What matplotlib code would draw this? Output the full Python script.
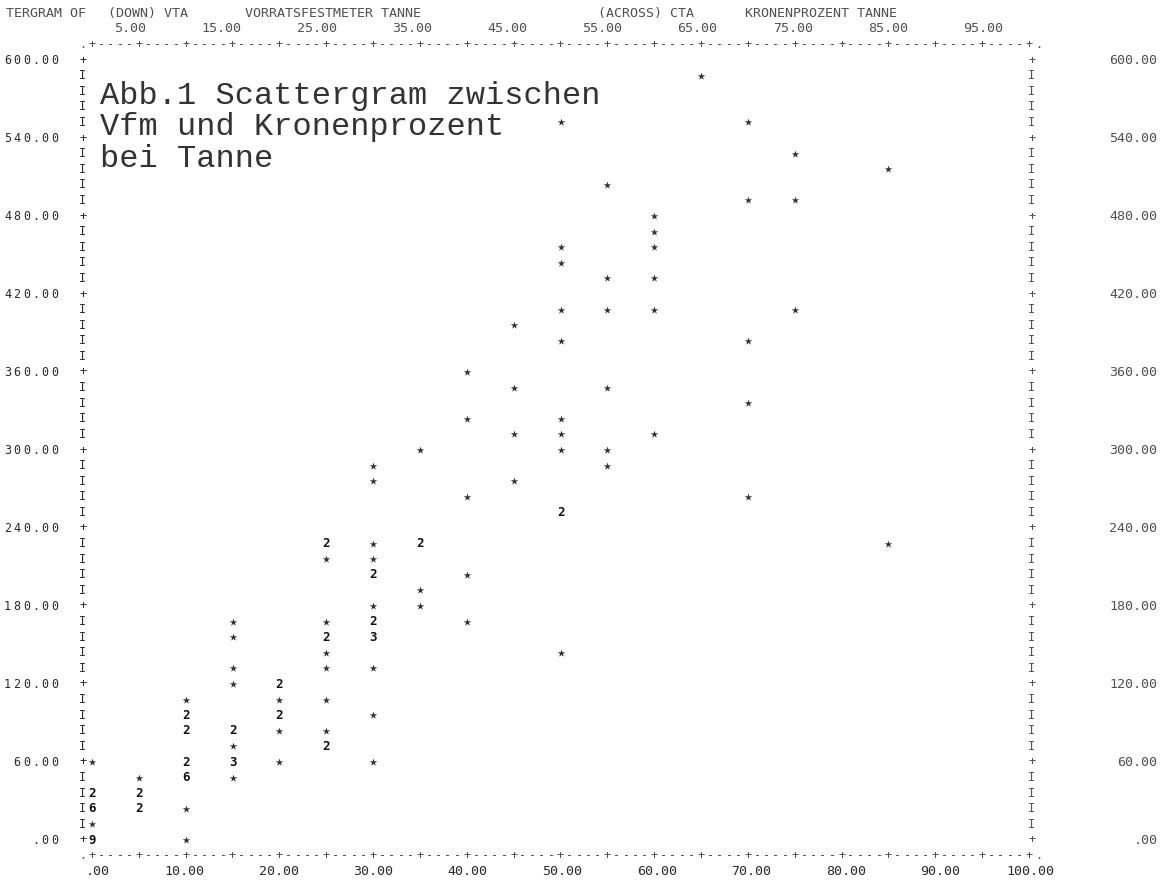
import matplotlib
matplotlib.use('Agg')
import matplotlib.pyplot as plt


# scattergram cells: across value (CTA), down value (VTA), number of cases
cta = [0, 0, 0, 0, 0,
       5, 5, 5,
       10, 10, 10, 10, 10, 10, 10,
       15, 15, 15, 15, 15, 15, 15, 15,
       20, 20, 20, 20, 20,
       25, 25, 25, 25, 25, 25, 25, 25, 25,
       30, 30, 30, 30, 30, 30, 30, 30, 30, 30, 30,
       35, 35, 35, 35,
       40, 40, 40, 40, 40,
       45, 45, 45, 45,
       50, 50, 50, 50, 50, 50, 50, 50, 50, 50,
       55, 55, 55, 55, 55, 55,
       60, 60, 60, 60, 60, 60,
       65,
       70, 70, 70, 70, 70,
       75, 75, 75,
       85, 85]
vta = [60, 36, 24, 12, 0,
       48, 36, 24,
       108, 96, 84, 60, 48, 24, 0,
       168, 156, 132, 120, 84, 72, 60, 48,
       120, 108, 96, 84, 60,
       228, 216, 168, 156, 144, 132, 108, 84, 72,
       288, 276, 228, 216, 204, 180, 168, 156, 132, 96, 60,
       300, 228, 192, 180,
       360, 324, 264, 204, 168,
       396, 348, 312, 276,
       552, 456, 444, 408, 384, 324, 312, 300, 252, 144,
       504, 432, 408, 348, 300, 288,
       480, 468, 456, 432, 408, 312,
       588,
       552, 492, 384, 336, 264,
       528, 492, 408,
       516, 228]
cases = [1, 2, 6, 1, 9,
         1, 2, 2,
         1, 2, 2, 2, 6, 1, 1,
         1, 1, 1, 1, 2, 1, 3, 1,
         2, 1, 2, 1, 1,
         2, 1, 1, 2, 1, 1, 1, 1, 2,
         1, 1, 1, 1, 2, 1, 2, 3, 1, 1, 1,
         1, 2, 1, 1,
         1, 1, 1, 1, 1,
         1, 1, 1, 1,
         1, 1, 1, 1, 1, 1, 1, 1, 2, 1,
         1, 1, 1, 1, 1, 1,
         1, 1, 1, 1, 1, 1,
         1,
         1, 1, 1, 1, 1,
         1, 1, 1,
         1, 1]

x_ticks_bottom = [0, 10, 20, 30, 40, 50, 60, 70, 80, 90, 100]
x_ticks_top = [5, 15, 25, 35, 45, 55, 65, 75, 85, 95]
y_ticks = [0, 60, 120, 180, 240, 300, 360, 420, 480, 540, 600]

header = [(-9.2, 'TERGRAM OF'), (1.7, '(DOWN) VTA'), (16.3, 'VORRATSFESTMETER TANNE'),
          (54.0, '(ACROSS) CTA'), (69.7, 'KRONENPROZENT TANNE')]
caption = ['Abb.1 Scattergram zwischen', 'Vfm und Kronenprozent', 'bei Tanne']

ROW = 12            # one printer line = 12 units of VTA
COL_PX = 9.37       # one printer column in pixels
ROW_PX = 15.6
X0_PX, Y0_PX = 92, 840

ink = '#2a2a2a'
faded = '#505050'
pfont = dict(family='DejaVu Sans Mono', fontsize=8.5, ha='center', va='center')
lfont = dict(family='DejaVu Sans Mono', fontsize=9.6, va='center')


def fmt(v):
    s = '%.2f' % v
    return s[1:] if s.startswith('0') else s


def put(ax, col, y, s, color=ink):
    # line printer: every character sits in its own column
    for i, ch in enumerate(s):
        if ch != ' ':
            ax.text(col + i, y, ch, color=color, **pfont)


fig = plt.figure(figsize=(11.69, 8.86), dpi=100)
ax = fig.add_axes([0, 0, 1, 1])
ax.set_xlim(-X0_PX / COL_PX, (1169 - X0_PX) / COL_PX)
ax.set_ylim(-(886 - Y0_PX) / ROW_PX * ROW, Y0_PX / ROW_PX * ROW)
ax.axis('off')

# frame: left/right borders
for r in range(0, 51):
    ch = '+' if r % 5 == 0 else 'I'
    put(ax, -1, r * ROW, ch)
    put(ax, 100.3, r * ROW, ch, color=faded)

# top and bottom axis lines
for yrow in (51, -1):
    line = '.' + ''.join('+' if c % 5 == 0 else '-' for c in range(0, 101)) + '.'
    put(ax, -1, yrow * ROW, line, color=faded)

# tick labels
for v in y_ticks:
    s = fmt(v)
    put(ax, -3 - len(s), v, s)
    ax.text(113.7, v, s, color=faded, ha='right', **lfont)
for v in x_ticks_bottom:
    ax.text(1.9 + 1.0085 * v, -2 * ROW, fmt(v), color=ink, ha='right', **lfont)
for v in x_ticks_top:
    ax.text(5.8 + 1.016 * (v - 5), 52 * ROW, fmt(v), color=faded, ha='right', **lfont)
for col, s in header:
    ax.text(col, 53 * ROW, s, color=faded, ha='left', **lfont)

# the cells: single cases as star, several as their count
single_x = [x for x, n in zip(cta, cases) if n == 1]
single_y = [y for y, n in zip(vta, cases) if n == 1]
ax.scatter(single_x, single_y, marker='*', s=32, color='#333333', linewidths=0)
for x, y, n in zip(cta, vta, cases):
    if n > 1:
        ax.text(x, y, str(n), color='#111111', family='DejaVu Sans Mono',
                fontsize=9, fontweight='bold', ha='center', va='center')

# typed caption
for i, line in enumerate(caption):
    ax.text(0.9, 566 - i * 24, line, family='Liberation Mono', fontsize=23,
            color='#333333', ha='left', va='baseline')

fig.savefig('out.png', dpi=100)
